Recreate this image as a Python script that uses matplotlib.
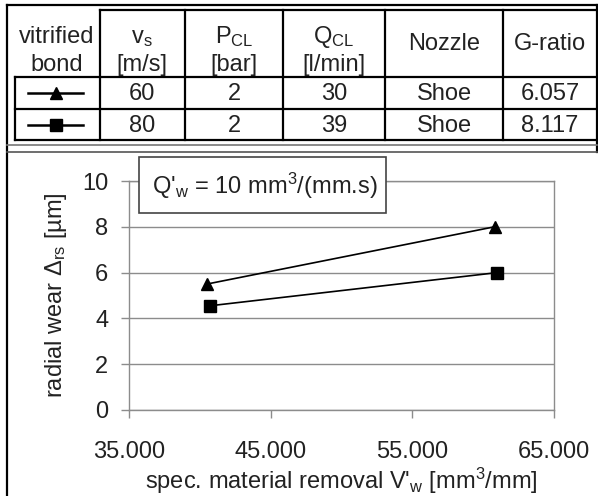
import matplotlib
matplotlib.use("Agg")
import matplotlib.pyplot as plt
from matplotlib.patches import Rectangle

plt.rcParams['font.family'] = ['Liberation Sans', 'DejaVu Sans']
plt.rcParams['mathtext.fontset'] = 'custom'
plt.rcParams['mathtext.rm'] = 'Liberation Sans'
plt.rcParams['mathtext.it'] = 'Liberation Sans:italic'

# Data
removal_60 = [40500, 60800]     # V'w, vs = 60 m/s
wear_60 = [5.5, 8.0]
removal_80 = [40700, 61000]     # V'w, vs = 80 m/s
wear_80 = [4.55, 6.0]

x_ticks = [35000, 45000, 55000, 65000]
x_tick_labels = ["35.000", "45.000", "55.000", "65.000"]
y_ticks = [0, 2, 4, 6, 8, 10]

# Table contents
header_top = ["vitrified", r"v$_\mathregular{s}$", r"P$_\mathregular{CL}$", r"Q$_\mathregular{CL}$"]
header_bottom = ["bond", "[m/s]", "[bar]", "[l/min]"]
header_single = ["Nozzle", "G-ratio"]
table_rows = [["60", "2", "30", "Shoe", "6.057"],
              ["80", "2", "39", "Shoe", "8.117"]]
row_markers = ["^", "s"]

W, H = 598, 496
fig = plt.figure(figsize=(W / 100, H / 100), dpi=100)
fs = 17
txt = "#222222"
grey = "#8c8c8c"

# chart
ax = fig.add_axes([129 / W, 1 - 410 / H, (554 - 129) / W, (410 - 181) / H])
ax.plot(removal_60, wear_60, color="black", lw=1.2, marker="^", ms=9, zorder=3)
ax.plot(removal_80, wear_80, color="black", lw=1.2, marker="s", ms=8.5, zorder=3)
ax.set_xlim(35000, 65000)
ax.set_ylim(0, 10)
ax.set_xticks(x_ticks)
ax.set_xticklabels(x_tick_labels)
ax.set_yticks(y_ticks)
ax.yaxis.grid(True, color=grey, lw=1)
ax.set_axisbelow(True)
for s in ax.spines.values():
    s.set_color(grey)
    s.set_linewidth(1)
ax.tick_params(axis="both", direction="out", length=6, width=1, color=grey,
               labelsize=fs, labelcolor=txt)
ax.tick_params(axis="y", pad=9)
ax.tick_params(axis="x", pad=16)
ax.set_ylabel(r"radial wear $\Delta_\mathregular{rs}$ [µm]", fontsize=fs, color=txt, labelpad=9)
ax.set_xlabel(r"spec. material removal V'$_\mathregular{w}$ [mm$^\mathregular{3}$/mm]",
              fontsize=fs, color=txt, labelpad=2)

# overlay in pixel coordinates for table and frames
ov = fig.add_axes([0, 0, 1, 1])
ov.set_xlim(0, W)
ov.set_ylim(H, 0)
ov.axis("off")
ov.patch.set_visible(False)

lw = 1.6
# outer frame
ov.plot([7, 7], [5, H], color="black", lw=lw)
ov.plot([597, 597], [5, 152], color="black", lw=lw)
ov.plot([7, 597], [5, 5], color="black", lw=lw)
# table grid
cols = [15, 100, 185, 283, 385, 503, 597]
ov.plot([100, 597], [10, 10], color="black", lw=lw)
for yy in [77, 109, 140]:
    ov.plot([15, 597], [yy, yy], color="black", lw=lw)
ov.plot([15, 15], [77, 140], color="black", lw=lw)
for xx in cols[1:-1]:
    ov.plot([xx, xx], [10, 140], color="black", lw=lw)
# double separator line
ov.plot([7, 597], [145, 145], color="#777777", lw=1.2)
ov.plot([7, 597], [152, 152], color="#555555", lw=1.2)

centers = [57, 142, 234, 334, 444, 550]
for i in range(4):
    ov.text(centers[i], 43, header_top[i], ha="center", va="baseline", fontsize=fs, color=txt)
    ov.text(centers[i], 71, header_bottom[i], ha="center", va="baseline", fontsize=fs, color=txt)
for i in range(2):
    ov.text(centers[4 + i], 44, header_single[i], ha="center", va="center", fontsize=fs, color=txt)

row_y = [93, 124.5]
for r, row in enumerate(table_rows):
    ov.plot([28, 83], [row_y[r], row_y[r]], color="black", lw=1.8)
    ov.plot([55.5], [row_y[r]], color="black", marker=row_markers[r], ms=8)
    for c, val in enumerate(row):
        ov.text(centers[c + 1], row_y[r] + 1, val, ha="center", va="center", fontsize=fs, color=txt)

# annotation box
ov.add_patch(Rectangle((139, 157), 386 - 139, 213 - 157, facecolor="white",
                       edgecolor="#444444", lw=1.2, zorder=4))
ov.text(152, 186, r"Q'$_\mathregular{w}$ = 10 mm$^\mathregular{3}$/(mm.s)", ha="left", va="center",
        fontsize=fs, color=txt, zorder=5)

fig.savefig("out.png", dpi=100)
